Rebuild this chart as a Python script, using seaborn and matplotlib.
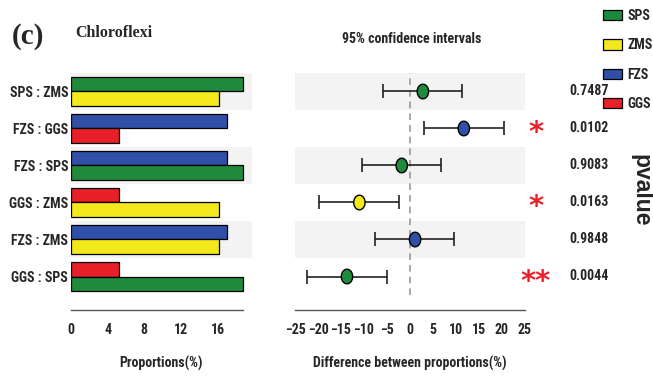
import matplotlib
matplotlib.use("Agg")
import matplotlib.pyplot as plt
from matplotlib import font_manager
from matplotlib.patches import Patch
from matplotlib.path import Path
from matplotlib.transforms import blended_transform_factory, ScaledTranslation
import numpy as np
import pandas as pd
import seaborn as sns

# ---- data -------------------------------------------------------------
groups = ["SPS", "ZMS", "FZS", "GGS"]
group_colors = ["#1e8a3c", "#f2e81c", "#3050a8", "#e8202a"]
group_means = [18.8, 16.1, 17.0, 5.2]          # mean proportion (%)

comparisons = ["SPS : ZMS", "FZS : GGS", "FZS : SPS",
               "GGS : ZMS", "FZS : ZMS", "GGS : SPS"]
first_group = ["SPS", "FZS", "FZS", "GGS", "FZS", "GGS"]
second_group = ["ZMS", "GGS", "SPS", "ZMS", "ZMS", "SPS"]

diff_mean = [2.8, 11.7, -1.8, -11.0, 1.1, -13.7]
ci_low = [-5.9, 3.0, -10.5, -19.7, -7.7, -22.4]
ci_high = [11.3, 20.4, 6.8, -2.3, 9.5, -5.0]
p_values = ["0.7487", "0.0102", "0.9083", "0.0163", "0.9848", "0.0044"]
signif = ["", "*", "", "*", "", "**"]

left_ticks = [0, 4, 8, 12, 16]
right_ticks = [-25, -20, -15, -10, -5, 0, 5, 10, 15, 20, 25]

# ---- fonts: prefer a condensed sans for the labels --------------------
sns.set_style("white")
fonts = font_manager.fontManager.ttflist
names = {f.name for f in fonts}
stretch = "normal"
if "Liberation Sans Narrow" in names:
    narrow, fs = "Liberation Sans Narrow", 10
elif "Roboto Condensed" in names:
    narrow, fs = "Roboto Condensed", 10
elif any(f.name == "DejaVu Sans" and f.stretch == "condensed" for f in fonts):
    narrow, fs, stretch = "DejaVu Sans", 8.5, "condensed"
else:
    narrow, fs = "Liberation Sans", 8.0
plt.rcParams["font.family"] = [narrow, "DejaVu Sans"]
plt.rcParams["font.weight"] = "bold"
plt.rcParams["axes.labelweight"] = "bold"
plt.rcParams["font.stretch"] = stretch

color_of = dict(zip(groups, group_colors))
mean_of = dict(zip(groups, group_means))
shade = "#f3f3f3"
axis_col = "#555555"

fig = plt.figure(figsize=(6.53, 3.76), dpi=100)
W, H = 653, 376
axL = fig.add_axes([71 / W, 1 - 295 / H, 181 / W, 222 / H])
axR = fig.add_axes([295 / W, 1 - 295 / H, 230 / W, 222 / H])

# ---- left: paired proportion bars ------------------------------------
rows = []
for comp, g1, g2 in zip(comparisons, first_group, second_group):
    rows.append({"comparison": comp, "slot": "first", "group": g1, "value": mean_of[g1]})
    rows.append({"comparison": comp, "slot": "second", "group": g2, "value": mean_of[g2]})
bars = pd.DataFrame(rows)

for i in range(0, len(comparisons), 2):
    axL.axhspan(i - 0.5, i + 0.5, color=shade, lw=0, zorder=0)
    axR.axhspan(i - 0.5, i + 0.5, color=shade, lw=0, zorder=0)

sns.barplot(data=bars, y="comparison", x="value", hue="slot",
            order=comparisons, hue_order=["first", "second"],
            orient="h", width=0.76, dodge=True, saturation=1,
            edgecolor="black", linewidth=0.9, legend=False, ax=axL,
            zorder=2)
for slot_idx, slot_groups in enumerate([first_group, second_group]):
    for bar, g in zip(axL.containers[slot_idx], slot_groups):
        bar.set_facecolor(color_of[g])

axL.set_xlim(0, max(group_means) * 1.05)
axL.set_ylim(len(comparisons) - 0.5, -0.5)
axL.set_xticks(left_ticks)
axL.set_xticks([2, 6, 10, 14, 18, max(group_means)], minor=True)
axL.set_ylabel("")
axL.set_xlabel("Proportions(%)", fontsize=fs, labelpad=14)
for s in ["top", "right", "left"]:
    axL.spines[s].set_visible(False)
axL.spines["bottom"].set_position(("outward", 10.8))
axL.spines["bottom"].set_bounds(0, max(group_means))
axL.tick_params(axis="y", length=0, pad=2, labelsize=fs)

# ---- right: difference with 95% CI -----------------------------------
ypos = np.arange(len(comparisons))
winner = [g1 if mean_of[g1] >= mean_of[g2] else g2
          for g1, g2 in zip(first_group, second_group)]
axR.axvline(0, color="#999999", lw=1.2, ls=(0, (4, 3)), zorder=1)
err = [np.array(diff_mean) - np.array(ci_low), np.array(ci_high) - np.array(diff_mean)]
axR.errorbar(diff_mean, ypos, xerr=err, fmt="none", ecolor="#222222",
             elinewidth=1.2, capsize=5.2, capthick=1.2, zorder=2)

theta = np.linspace(0, 2 * np.pi, 60)
oval = Path(np.column_stack([0.78 * np.cos(theta), np.sin(theta)]), closed=True)
pts = pd.DataFrame({"diff": diff_mean, "row": ypos, "group": winner})
sns.scatterplot(data=pts, x="diff", y="row", hue="group", palette=color_of,
                marker=oval, s=110, edgecolor="black", linewidth=1,
                legend=False, ax=axR, zorder=3)

axR.set_xlim(-25, 25)
axR.set_ylim(len(comparisons) - 0.5, -0.5)
axR.set_xticks(right_ticks)
axR.set_yticks([])
axR.set_ylabel("")
axR.set_xlabel("Difference between proportions(%)", fontsize=fs, labelpad=14)
for s in ["top", "right", "left"]:
    axR.spines[s].set_visible(False)
axR.spines["bottom"].set_position(("outward", 10.8))

for ax in (axL, axR):
    ax.spines["bottom"].set_color(axis_col)
    ax.spines["bottom"].set_linewidth(1.0)
    ax.tick_params(axis="x", which="both", direction="in", length=6,
                   width=1, color=axis_col, pad=9, labelsize=fs)

# p-values and significance marks
tr = blended_transform_factory(fig.transFigure, axR.transData)
for y, p, star in zip(ypos, p_values, signif):
    fig.text(569 / W, y, p, transform=tr, ha="left", va="center", fontsize=fs)
    if star:
        st = tr + ScaledTranslation(0, -0.05, fig.dpi_scale_trans)
        fig.text(536 / W, y, star, transform=st, ha="center", va="center",
                 fontsize=21, color="#e8202a", family="DejaVu Sans",
                 stretch="normal")

fig.text(641 / W, 1 - 190 / H, "pvalue", rotation=-90, ha="center", va="center",
         fontsize=16.5, family=["Liberation Sans", "DejaVu Sans"], stretch="normal")

# titles
fig.text(12 / W, 1 - 44 / H, "(c)", fontsize=21, va="baseline",
         family=["Liberation Serif", "DejaVu Serif"], stretch="normal")
fig.text(75 / W, 1 - 37 / H, "Chloroflexi", fontsize=11.5, va="baseline",
         family=["Liberation Serif", "DejaVu Serif"], stretch="normal")
fig.text(412 / W, 1 - 39 / H, "95% confidence intervals", ha="center",
         va="center", fontsize=fs)

# group legend
handles = [Patch(facecolor=c, edgecolor="black", linewidth=0.9) for c in group_colors]
fig.legend(handles, groups, loc="upper left", bbox_to_anchor=(603 / W, 1 - 9 / H),
           frameon=False, borderpad=0, borderaxespad=0, fontsize=fs,
           handlelength=1.35, handleheight=0.75, handletextpad=0.4,
           labelspacing=1.1)

fig.savefig("out.png", dpi=100)
